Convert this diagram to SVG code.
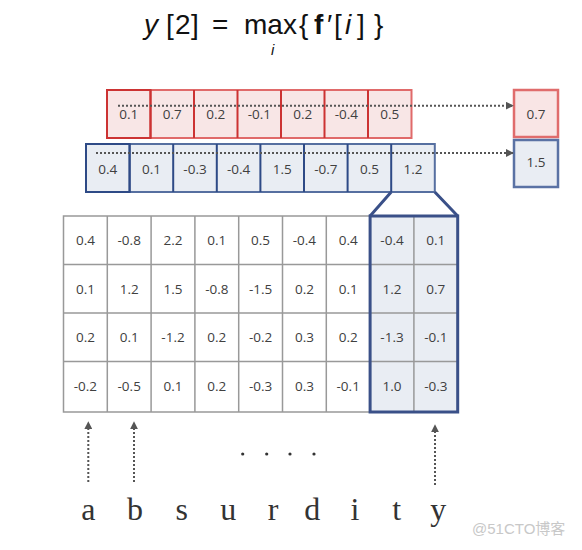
<svg xmlns="http://www.w3.org/2000/svg" width="582" height="550" viewBox="0 0 582 550">
<defs>
<style>
.num{font-family:"Open Sans","Liberation Sans",sans-serif;font-size:13.5px;fill:#404040;text-anchor:middle}
.math{font-family:"Liberation Sans","DejaVu Sans",sans-serif;font-size:28px;fill:#111}
.ch{font-family:"Liberation Serif","Times New Roman",serif;font-size:32px;fill:#333;text-anchor:middle}
.grid{stroke:#999;stroke-width:1.5;fill:none}
.dot{stroke:#555;stroke-width:2;stroke-dasharray:2 2;fill:none}
.redcell{fill:#f8e6e6;stroke:#cc3333;stroke-width:2}
.bluecell{fill:#e9edf3;stroke:#2e4a86;stroke-width:2}
</style>
<marker id="ah" viewBox="0 0 10 10" refX="9" refY="5" markerWidth="8" markerHeight="8" markerUnits="userSpaceOnUse" orient="auto">
<path d="M0,0 L10,5 L0,10 z" fill="#555"/>
</marker>
</defs>
<rect width="582" height="550" fill="#fff"/>

<g id="formula">
<text class="math" y="34"><tspan x="144" font-style="italic">y</tspan><tspan x="166">[</tspan><tspan x="175">2</tspan><tspan x="191">]</tspan><tspan x="212">=</tspan><tspan x="244">max</tspan><tspan x="271" y="55" font-size="15" font-style="italic">i</tspan><tspan x="299" y="34">{</tspan><tspan x="314" font-weight="bold">f</tspan><tspan x="327">′</tspan><tspan x="334">[</tspan><tspan x="345" font-style="italic">i</tspan><tspan x="357">]</tspan><tspan x="374">}</tspan></text>
</g>

<g id="red-row">
<rect x="107" y="90" width="304.5" height="48" fill="#f8e6e6" stroke="#e06a6a" stroke-width="2"/>
<rect class="redcell" x="107" y="90" width="43.5" height="48"/>
<path d="M150.5,90V138M194,90V138M237.5,90V138M281,90V138M324.5,90V138M368,90V138" stroke="#cc3333" stroke-width="2"/>
<text class="num" y="119"><tspan x="128.8">0.1</tspan><tspan x="172.3">0.7</tspan><tspan x="215.8">0.2</tspan><tspan x="259.3">-0.1</tspan><tspan x="302.8">0.2</tspan><tspan x="346.3">-0.4</tspan><tspan x="389.8">0.5</tspan></text>
</g>

<g id="blue-row">
<rect x="86" y="144" width="348.8" height="48" fill="#e9edf3" stroke="#566fa0" stroke-width="2"/>
<rect class="bluecell" x="86" y="144" width="43.6" height="48"/>
<path d="M129.6,144V192M173.2,144V192M216.8,144V192M260.4,144V192M304,144V192M347.6,144V192M391.2,144V192" stroke="#2e4a86" stroke-width="2"/>
<text class="num" y="174"><tspan x="107.8">0.4</tspan><tspan x="151.4">0.1</tspan><tspan x="195">-0.3</tspan><tspan x="238.6">-0.4</tspan><tspan x="282.2">1.5</tspan><tspan x="325.8">-0.7</tspan><tspan x="369.4">0.5</tspan><tspan x="413">1.2</tspan></text>
</g>

<g id="red-max">
<rect x="514" y="90" width="44" height="47" fill="#f9e5e5" stroke="#e06c6c" stroke-width="2.5"/>
<text class="num" x="536" y="119" font-size="13">0.7</text>
</g>

<g id="blue-max">
<rect x="514" y="140" width="44" height="47" fill="#e9edf3" stroke="#5a72a4" stroke-width="2.5"/>
<text class="num" x="536" y="167" font-size="13">1.5</text>
</g>

<g id="matrix">
<rect x="63.5" y="216" width="394.2" height="196" fill="#fff"/>
<rect x="370.1" y="216" width="87.6" height="196" fill="#e9edf3"/>
<rect class="grid" x="63.5" y="216" width="394.2" height="196"/>
<path class="grid" d="M107.3,216V412M151.1,216V412M194.9,216V412M238.7,216V412M282.5,216V412M326.3,216V412M370.1,216V412M413.9,216V412M63.5,264.5H457.7M63.5,313H457.7M63.5,361.5H457.7"/>
<rect x="370.1" y="216" width="87.6" height="196" fill="none" stroke="#3a5088" stroke-width="3"/>
<text class="num" y="245"><tspan x="85.4">0.4</tspan><tspan x="129.2">-0.8</tspan><tspan x="173">2.2</tspan><tspan x="216.8">0.1</tspan><tspan x="260.6">0.5</tspan><tspan x="304.4">-0.4</tspan><tspan x="348.2">0.4</tspan><tspan x="392">-0.4</tspan><tspan x="435.8">0.1</tspan></text>
<text class="num" y="294"><tspan x="85.4">0.1</tspan><tspan x="129.2">1.2</tspan><tspan x="173">1.5</tspan><tspan x="216.8">-0.8</tspan><tspan x="260.6">-1.5</tspan><tspan x="304.4">0.2</tspan><tspan x="348.2">0.1</tspan><tspan x="392">1.2</tspan><tspan x="435.8">0.7</tspan></text>
<text class="num" y="342"><tspan x="85.4">0.2</tspan><tspan x="129.2">0.1</tspan><tspan x="173">-1.2</tspan><tspan x="216.8">0.2</tspan><tspan x="260.6">-0.2</tspan><tspan x="304.4">0.3</tspan><tspan x="348.2">0.2</tspan><tspan x="392">-1.3</tspan><tspan x="435.8">-0.1</tspan></text>
<text class="num" y="391"><tspan x="85.4">-0.2</tspan><tspan x="129.2">-0.5</tspan><tspan x="173">0.1</tspan><tspan x="216.8">0.2</tspan><tspan x="260.6">-0.3</tspan><tspan x="304.4">0.3</tspan><tspan x="348.2">-0.1</tspan><tspan x="392">1.0</tspan><tspan x="435.8">-0.3</tspan></text>
</g>

<g id="word">
<text class="ch" y="520"><tspan x="88.3">a</tspan><tspan x="135">b</tspan><tspan x="181.7">s</tspan><tspan x="228.3">u</tspan><tspan x="273">r</tspan><tspan x="312.3">d</tspan><tspan x="355">i</tspan><tspan x="396.7">t</tspan><tspan x="438.3">y</tspan></text>
</g>

<g id="ellipsis" fill="#333">
<circle cx="242.7" cy="454" r="1.6"/>
<circle cx="266.7" cy="454" r="1.6"/>
<circle cx="290" cy="454" r="1.6"/>
<circle cx="314" cy="454" r="1.6"/>
</g>

<g id="connectors">
<path class="dot" d="M118,105.7H513" marker-end="url(#ah)"/>
<path class="dot" d="M96,153H513" marker-end="url(#ah)"/>
<path d="M391.2,192L370.1,216M434.8,192L457.7,216" stroke="#3a5088" stroke-width="3" fill="none"/>
<path class="dot" d="M88.3,482V422" marker-end="url(#ah)"/>
<path class="dot" d="M134,482V422" marker-end="url(#ah)"/>
<path class="dot" d="M435,485V425" marker-end="url(#ah)"/>
</g>

<text x="472" y="534" font-family="'Liberation Sans','Noto Sans CJK SC',sans-serif" font-size="15" fill="#c8c8c8">@51CTO博客</text>
</svg>
